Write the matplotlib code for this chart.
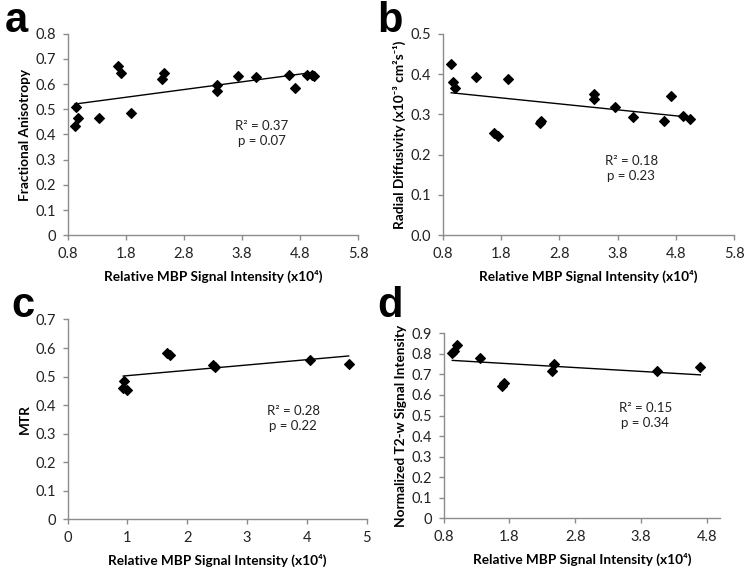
import numpy as np
import matplotlib
matplotlib.use('Agg')
import matplotlib.pyplot as plt

plt.rcParams['font.family'] = ['Lato', 'DejaVu Sans']

# ---- data ----
# a: fractional anisotropy
fa_x = [0.94, 0.98, 0.92, 1.34, 1.66, 1.72, 1.89, 2.43, 2.46, 3.37, 3.37, 3.73, 4.04, 4.60, 4.71, 4.91, 5.01, 5.04]
fa_y = [0.510, 0.467, 0.435, 0.464, 0.670, 0.643, 0.487, 0.621, 0.645, 0.595, 0.573, 0.633, 0.627, 0.635, 0.585, 0.636, 0.636, 0.631]

# b: radial diffusivity
rd_x = [0.94, 0.97, 1.00, 1.36, 1.92, 1.68, 1.74, 2.46, 2.48, 3.39, 3.39, 3.75, 4.06, 4.60, 4.72, 4.93, 5.04]
rd_y = [0.426, 0.381, 0.366, 0.392, 0.387, 0.253, 0.246, 0.278, 0.284, 0.351, 0.337, 0.317, 0.294, 0.284, 0.346, 0.297, 0.289]

# c: MTR
mtr_x = [0.95, 0.93, 0.99, 1.66, 1.71, 2.43, 2.46, 4.05, 4.70]
mtr_y = [0.485, 0.461, 0.452, 0.583, 0.574, 0.540, 0.535, 0.558, 0.544]

# d: normalized T2-w signal
t2_x = [0.93, 0.96, 1.00, 1.35, 1.68, 1.72, 2.44, 2.47, 4.04, 4.70]
t2_y = [0.803, 0.812, 0.841, 0.780, 0.643, 0.660, 0.718, 0.749, 0.718, 0.734]

xlabel = 'Relative MBP Signal Intensity (x10\u2074)'

panels = [
    dict(letter='a', x=fa_x, y=fa_y, ylabel='Fractional Anisotropy',
         xlim=(0.8, 5.8), xticks=np.arange(0.8, 5.81, 1.0), xfmt='%.1f',
         ylim=(0, 0.8), yticks=np.arange(0, 0.81, 0.1), yfmt='g',
         stats='R\u00b2 = 0.37\np = 0.07', txt=(0.667, 0.507),
         pos=[0.0901, 0.588, 0.387, 0.353], lpos=(0.006, 0.944)),
    dict(letter='b', x=rd_x, y=rd_y, ylabel='Radial Diffusivity (x10\u207b\u00b3 cm\u00b2s\u207b\u00b9)',
         xlim=(0.8, 5.8), xticks=np.arange(0.8, 5.81, 1.0), xfmt='%.1f',
         ylim=(0, 0.5), yticks=np.arange(0, 0.51, 0.1), yfmt='%.1f',
         stats='R\u00b2 = 0.18\np = 0.23', txt=(0.647, 0.332),
         pos=[0.590, 0.588, 0.3875, 0.353], lpos=(0.502, 0.944)),
    dict(letter='c', x=mtr_x, y=mtr_y, ylabel='MTR',
         xlim=(0, 5), xticks=np.arange(0, 5.01, 1.0), xfmt='%d',
         ylim=(0, 0.7), yticks=np.arange(0, 0.71, 0.1), yfmt='g',
         stats='R\u00b2 = 0.28\np = 0.22', txt=(0.755, 0.505),
         pos=[0.0901, 0.0905, 0.398, 0.350], lpos=(0.015, 0.445)),
    dict(letter='d', x=t2_x, y=t2_y, ylabel='Normalized T2-w Signal Intensity',
         xlim=(0.8, 5.0), xticks=np.arange(0.8, 4.81, 1.0), xfmt='%.1f',
         ylim=(0, 0.9), yticks=np.arange(0, 0.91, 0.1), yfmt='g',
         stats='R\u00b2 = 0.15\np = 0.34', txt=(0.729, 0.558),
         pos=[0.5908, 0.0923, 0.368, 0.324], lpos=(0.502, 0.445)),
]

axis_grey = '#8c8c8c'

fig = plt.figure(figsize=(7.51, 5.71), dpi=100)

for p in panels:
    ax = fig.add_axes(p['pos'])
    x = np.array(p['x'])
    y = np.array(p['y'])

    ax.plot(x, y, linestyle='none', marker='D', markersize=5.5,
            color='black', markeredgewidth=0.8, zorder=3)

    # least squares trendline over the data range
    slope, icpt = np.polyfit(x, y, 1)
    xs = np.array([x.min(), x.max()])
    ax.plot(xs, slope * xs + icpt, color='black', linewidth=1.0, zorder=2)

    ax.set_xlim(p['xlim'])
    ax.set_ylim(p['ylim'])
    ax.set_xticks(p['xticks'])
    ax.set_yticks(p['yticks'])
    ax.set_xticklabels([p['xfmt'] % v for v in p['xticks']])
    if p['yfmt'] == 'g':
        ax.set_yticklabels(['%g' % round(v, 1) for v in p['yticks']])
    else:
        ax.set_yticklabels([p['yfmt'] % v for v in p['yticks']])

    for s in ['top', 'right']:
        ax.spines[s].set_visible(False)
    for s in ['left', 'bottom']:
        ax.spines[s].set_color(axis_grey)
        ax.spines[s].set_linewidth(1.0)
    ax.tick_params(direction='out', length=3.5, width=1.0, color=axis_grey,
                   labelsize=10.5, labelcolor='#222222')
    ax.tick_params(axis='x', pad=5)
    ax.tick_params(axis='y', pad=5)

    ax.set_xlabel(xlabel, fontsize=9.8, fontweight='bold', labelpad=6)
    ax.set_ylabel(p['ylabel'], fontsize=9.8, fontweight='bold', labelpad=3)

    ax.text(p['txt'][0], p['txt'][1], p['stats'], transform=ax.transAxes,
            ha='center', va='center', fontsize=9.5, linespacing=1.3,
            color='#222222')

    fig.text(p['lpos'][0], p['lpos'][1], p['letter'], fontsize=30,
             fontweight='bold', family='Liberation Sans', va='baseline')

fig.savefig('out.png', dpi=100, facecolor='white')
